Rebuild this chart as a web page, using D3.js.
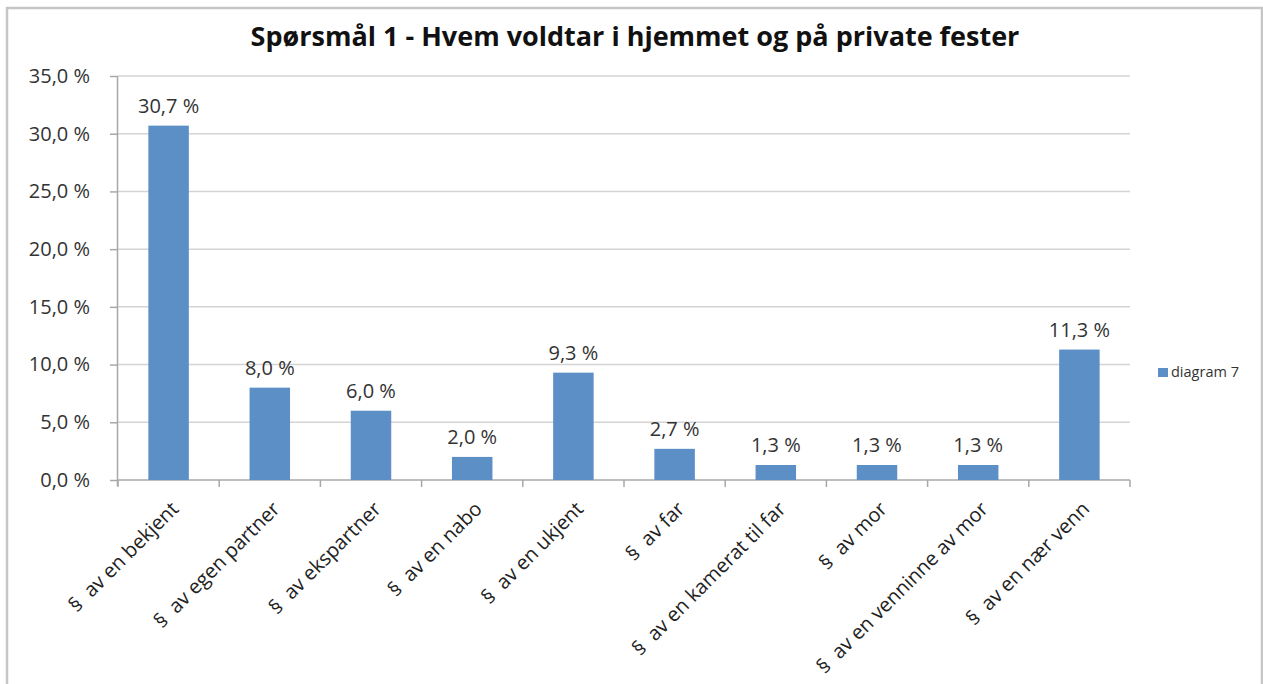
<!DOCTYPE html>
<html>
<head>
<meta charset="utf-8">
<script src="https://cdn.jsdelivr.net/npm/d3@7"></script>
<style>
  body { margin: 0; background: #fff; }
  svg { display: block; }
  text { font-family: "Open Sans", "Liberation Sans", Arial, sans-serif; }
</style>
</head>
<body>
<svg id="chart"></svg>
<script>
// chart data
var categories = ["§ av en bekjent", "§ av egen partner", "§ av ekspartner", "§ av en nabo",
  "§ av en ukjent", "§ av far", "§ av en kamerat til far", "§ av mor",
  "§ av en venninne av mor", "§ av en nær venn"];
var values = [30.7, 8.0, 6.0, 2.0, 9.3, 2.7, 1.3, 1.3, 1.3, 11.3];
var yTicks = [0, 5, 10, 15, 20, 25, 30, 35];
var seriesName = "diagram 7";
var title = "Spørsmål 1 - Hvem voldtar i hjemmet og på private fester";

var width = 1263, height = 684;
var plot = {left: 118, right: 1130, top: 76, bottom: 480};

var fmt = function(v) { return v.toFixed(1).replace(".", ",") + " %"; };

var svg = d3.select("#chart")
    .attr("width", width)
    .attr("height", height);

// outer frame (cut off at the bottom)
svg.append("path")
    .attr("d", "M7," + height + "V8H1262V" + height)
    .attr("fill", "none")
    .attr("stroke", "#c6c6c6")
    .attr("stroke-width", 2.5);

var x = d3.scaleBand()
    .domain(categories)
    .range([plot.left, plot.right])
    .paddingInner(0.6)
    .paddingOuter(0.3);

var y = d3.scaleLinear()
    .domain([0, 35])
    .range([plot.bottom, plot.top]);

// title, sized so it spans the same width as the original
var t = svg.append("text")
    .attr("x", 635)
    .attr("y", 46)
    .attr("text-anchor", "middle")
    .attr("font-size", "22px")
    .attr("font-weight", "bold")
    .attr("fill", "#111")
    .text(title);
var tw = t.node().getComputedTextLength();
t.attr("font-size", Math.min(27, 22 * 775 / tw) + "px");

// gridlines
svg.append("g")
    .selectAll("line")
    .data(yTicks.filter(function(d) { return d > 0; }))
    .enter().append("line")
    .attr("x1", plot.left)
    .attr("x2", plot.right)
    .attr("y1", function(d) { return y(d); })
    .attr("y2", function(d) { return y(d); })
    .attr("stroke", "#d4d4d4")
    .attr("stroke-width", 1.5);

// y axis
var yAxis = d3.axisLeft(y)
    .tickValues(yTicks)
    .tickSize(8)
    .tickPadding(20)
    .tickFormat(fmt);

var gy = svg.append("g")
    .attr("transform", "translate(" + plot.left + ",0)")
    .call(yAxis);
gy.select(".domain")
    .attr("d", "M-0.5," + plot.top + "V" + (plot.bottom + 6))
    .attr("stroke", "#a8a8a8")
    .attr("stroke-width", 1.5);
gy.selectAll(".tick line").attr("stroke", "#a8a8a8").attr("stroke-width", 1.5);
gy.selectAll(".tick text")
    .attr("font-size", "20px")
    .attr("fill", "#333")
    .attr("font-family", "Open Sans, Liberation Sans, Arial, sans-serif");

// x axis line + category ticks at band edges
var step = x.step();
var edges = d3.range(categories.length + 1).map(function(i) { return plot.left + i * step; });
svg.append("line")
    .attr("x1", plot.left)
    .attr("x2", plot.right)
    .attr("y1", plot.bottom)
    .attr("y2", plot.bottom)
    .attr("stroke", "#a8a8a8")
    .attr("stroke-width", 1.5);
svg.append("g")
    .selectAll("line")
    .data(edges)
    .enter().append("line")
    .attr("x1", function(d) { return d; })
    .attr("x2", function(d) { return d; })
    .attr("y1", plot.bottom)
    .attr("y2", plot.bottom + 7)
    .attr("stroke", "#a8a8a8")
    .attr("stroke-width", 1.5);

// bars
svg.append("g")
    .selectAll("rect")
    .data(values)
    .enter().append("rect")
    .attr("x", function(d, i) { return x(categories[i]); })
    .attr("y", function(d) { return y(d); })
    .attr("width", x.bandwidth())
    .attr("height", function(d) { return y(0) - y(d); })
    .attr("fill", "#5b8fc6");

// value labels
svg.append("g")
    .selectAll("text")
    .data(values)
    .enter().append("text")
    .attr("x", function(d, i) { return x(categories[i]) + x.bandwidth() / 2; })
    .attr("y", function(d) { return y(d) - 13; })
    .attr("text-anchor", "middle")
    .attr("font-size", "20px")
    .attr("fill", "#333")
    .text(fmt);

// rotated category labels (wider gap after the bullet, like the original)
svg.append("g")
    .selectAll("text")
    .data(categories)
    .enter().append("text")
    .attr("transform", function(d) {
      var cx = x(d) + x.bandwidth() / 2;
      return "translate(" + (cx + 1) + "," + (plot.bottom + 20) + ") rotate(-45)";
    })
    .attr("dy", "0.72em")
    .attr("text-anchor", "end")
    .attr("font-size", "20px")
    .attr("fill", "#222")
    .text(function(d) { return d.replace("§ ", "§\u00A0\u00A0"); });

// legend
var legend = svg.append("g").attr("transform", "translate(1158,368)");
legend.append("rect")
    .attr("width", 10)
    .attr("height", 9)
    .attr("fill", "#5b8fc6");
legend.append("text")
    .attr("x", 13)
    .attr("y", 9)
    .attr("font-size", "14.5px")
    .attr("fill", "#333")
    .text(seriesName);
</script>
</body>
</html>
